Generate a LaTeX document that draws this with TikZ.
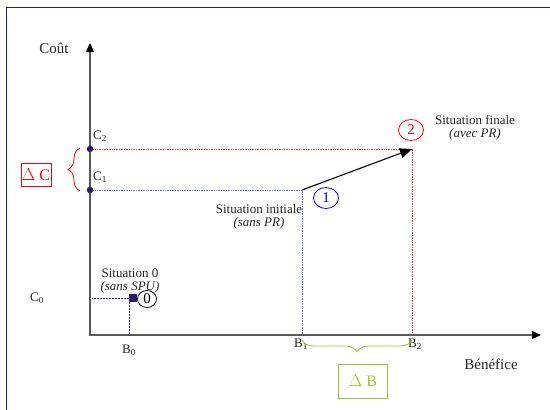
\documentclass[tikz,border=0pt]{standalone}
\usepackage{fontspec}
\setmainfont{Liberation Serif}
\usetikzlibrary{arrows.meta,decorations.pathreplacing,shapes.geometric}
\definecolor{frameblue}{RGB}{30,30,140}
\definecolor{axisgray}{RGB}{90,90,90}
\definecolor{dotcol}{RGB}{45,25,110}
\definecolor{bluedot}{RGB}{110,110,255}
\definecolor{reddot}{RGB}{255,60,60}
\definecolor{greenb}{RGB}{150,200,40}
\tikzset{
  lbl/.style={font=\fontsize{13}{13.5}\selectfont, inner sep=0pt, text=black!85},
  axis/.style={draw=axisgray, line width=1.1pt, -{Triangle[length=9pt,width=8pt,color=black]}},
  pt/.style={circle, fill=dotcol, inner sep=0pt, minimum size=6.5pt},
  numcirc/.style={ellipse, draw, line width=0.8pt, inner sep=0pt, font=\fontsize{15}{15}\selectfont},
  guide/.style={densely dotted, line width=0.7pt},
}
\begin{document}
\begin{tikzpicture}[x=1pt,y=-1pt]
\useasboundingbox (0,0) rectangle (550,410);
\draw[frameblue, line width=1pt] (6,410) -- (6,7) -- (550,7);
% axes
\coordinate (O) at (90,335);
\coordinate (Ytop) at (90,43);
\coordinate (Xend) at (541,335);
\draw[axis] (O) -- (Ytop);
\draw[axis] (89,335) -- (Xend);
\node[lbl, font=\fontsize{15}{15}\selectfont] (cout) at (54,48) {Coût};
\node[lbl, font=\fontsize{15}{15}\selectfont] (benef) at (491,364) {Bénéfice};
% points
\coordinate (P1) at (302,190);
\coordinate (P2) at (412,149);
\node[pt] (C2) at (90,149) {};
\node[pt] (C1) at (90,190) {};
\coordinate (B1) at (302,335);
\coordinate (B2) at (412,335);
\coordinate (P0) at (133,298);
\coordinate (C0) at (92,298);
\coordinate (B0) at (129,335);
% guides
\draw[guide, bluedot] (C1) -- (P1) -- (B1);
\draw[guide, reddot] (C2) -- (P2) -- (B2);
\draw[guide, dotcol, line width=0.5pt] (C0) -- (129,298) -- (B0);
\node[fill=dotcol, minimum size=8pt, inner sep=0pt] (sq) at (P0) {};
% arrow
\draw[line width=1.1pt, -{Triangle[length=12pt,width=10pt]}] (P1) -- (P2);
% labels
\node[lbl, anchor=south west] (c2l) at (93,142) {C\textsubscript{2}};
\node[lbl, anchor=south west] (c1l) at (93,183) {C\textsubscript{1}};
\node[lbl] (c0l) at (37,298) {C\textsubscript{0}};
\node[lbl] (b0l) at (129,350) {B\textsubscript{0}};
\node[lbl] (b1l) at (301,344) {B\textsubscript{1}};
\node[lbl] (b2l) at (415,344) {B\textsubscript{2}};
\node[numcirc, minimum width=19pt, minimum height=17pt] (n0) at (147,299) {0};
\node[numcirc, draw=blue, text=blue, minimum width=25pt, minimum height=21pt] (n1) at (326,198) {1};
\node[numcirc, draw=red, text=red, minimum width=25pt, minimum height=21pt] (n2) at (411,130) {2};
\node[lbl, align=center] (s0) at (130,281) {Situation 0\\\textit{(sans SPU)}};
\node[lbl, align=center] (s1) at (259,217) {Situation initiale\\\textit{(sans PR)}};
\node[lbl, align=center] (s2) at (475,128) {Situation finale\\\textit{(avec PR)}};
% braces
\draw[red, line width=0.8pt, decorate, decoration={brace, amplitude=12pt}] (80,191) -- (80,148);
\node[draw=red, text=red, line width=0.8pt, minimum width=29pt, minimum height=23pt, inner sep=1pt, font=\fontsize{16}{16}\selectfont] (dC) at (36,175) {$\Delta$ C};
\draw[greenb, line width=0.8pt, decorate, decoration={brace, amplitude=12pt}] (412,340) -- (302,340);
\node[draw=greenb, text=greenb, line width=0.8pt, minimum width=49pt, minimum height=34pt, inner sep=1pt, font=\fontsize{16}{16}\selectfont] (dB) at (363,381) {$\Delta$ B};
\end{tikzpicture}
\end{document}
